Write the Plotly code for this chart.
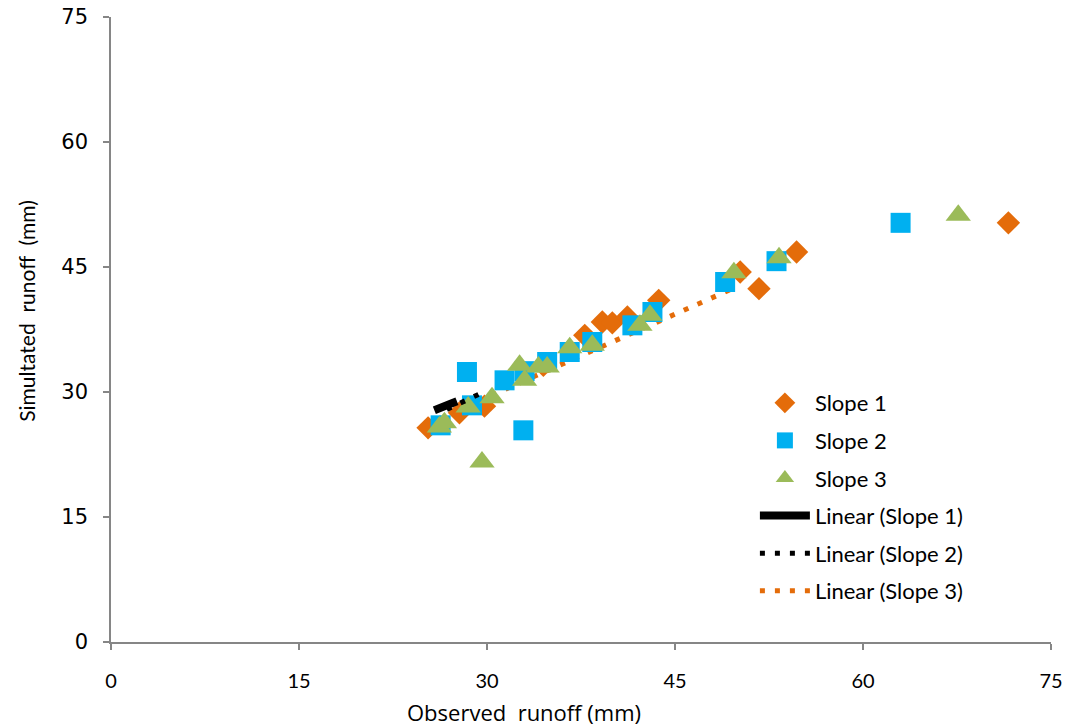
import plotly.graph_objects as go

# Slope 1 (diamonds)
s1_x = [25.3, 27.8, 29.8, 34.5, 37.8, 39.2, 40.0, 41.2, 43.7, 50.2, 51.7, 54.7, 71.6]
s1_y = [25.7, 27.5, 28.3, 33.2, 36.8, 38.4, 38.3, 39.0, 41.0, 44.4, 42.4, 46.8, 50.3]
# Slope 2 (squares)
s2_x = [26.3, 28.4, 28.8, 31.4, 32.9, 33.0, 34.8, 36.6, 38.4, 41.6, 43.2, 49.0, 53.1, 63.0]
s2_y = [26.0, 32.4, 28.4, 31.4, 25.4, 32.5, 33.6, 34.8, 36.0, 38.0, 39.6, 43.2, 45.7, 50.3]
# Slope 3 (triangles)
s3_x = [26.2, 26.6, 28.5, 29.6, 30.4, 32.6, 33.0, 34.1, 34.8, 36.6, 38.4, 42.2, 43.0, 49.7, 53.3, 67.6]
s3_y = [25.8, 26.3, 28.2, 21.6, 29.3, 33.2, 31.4, 33.0, 33.0, 35.3, 35.6, 38.0, 39.2, 44.3, 46.1, 51.2]

# Linear trend lines (endpoints)
t1_x = [25.8, 27.6]
t1_y = [27.8, 28.9]
t2_x = [26.8, 30.0]
t2_y = [27.9, 30.2]
t3_x = [26.0, 49.6]
t3_y = [26.7, 42.4]

ticks = [0, 15, 30, 45, 60, 75]
x_title = "Observed  runoff (mm)"
y_title = "Simultated  runoff  (mm)"

ORANGE = "#E46C0A"
BLUE = "#00B0F0"
GREEN = "#9BBB59"
FONT = "Lato"

fig = go.Figure()

fig.add_trace(go.Scatter(x=t3_x, y=t3_y, mode="lines", name="Linear (Slope 3)",
                         line=dict(color=ORANGE, width=5, dash="5px,10px"),
                         legendgroup="g6", legendrank=6))
fig.add_trace(go.Scatter(x=s1_x, y=s1_y, mode="markers", name="Slope 1",
                         marker=dict(symbol="diamond", size=18, color=ORANGE),
                         legendgroup="g1", legendrank=1))
fig.add_trace(go.Scatter(x=s2_x, y=s2_y, mode="markers", name="Slope 2",
                         marker=dict(symbol="square", size=20, color=BLUE),
                         legendgroup="g2", legendrank=2))
fig.add_trace(go.Scatter(x=s3_x, y=s3_y, mode="markers", name="Slope 3",
                         marker=dict(symbol="triangle-up", size=22, color=GREEN),
                         legendgroup="g3", legendrank=3))
fig.add_trace(go.Scatter(x=t1_x, y=t1_y, mode="lines", name="Linear (Slope 1)",
                         line=dict(color="black", width=8),
                         legendgroup="g4", legendrank=4))
fig.add_trace(go.Scatter(x=t2_x, y=t2_y, mode="lines", name="Linear (Slope 2)",
                         line=dict(color="black", width=5, dash="5px,10px"),
                         legendgroup="g5", legendrank=5))

axis_common = dict(
    range=[0, 75], tickvals=ticks, ticktext=[str(t) for t in ticks],
    showgrid=False, zeroline=False, showline=True, linecolor="#868686", linewidth=1.5,
    ticks="outside", ticklen=6, tickcolor="#868686", tickwidth=1.5, automargin=False,
)

fig.update_layout(
    width=1070, height=727,
    margin=dict(l=111, r=19, t=17, b=85),
    paper_bgcolor="white", plot_bgcolor="white",
    font=dict(family=FONT, size=18, color="black"),
    xaxis=dict(**axis_common, tickfont=dict(family=FONT, size=20), ticklabelstandoff=14),
    yaxis=dict(**axis_common, tickfont=dict(family="DejaVu Sans", size=21), ticklabelstandoff=11),
    legend=dict(x=0.685, y=0.416, xanchor="left", yanchor="top", itemwidth=50,
                font=dict(family=FONT, size=22), traceorder="grouped", tracegroupgap=6,
                bgcolor="rgba(0,0,0,0)"),
    showlegend=True,
    annotations=[
        dict(text=x_title, xref="paper", yref="paper", x=0.439, y=0, yshift=-70,
             xanchor="center", yanchor="middle", showarrow=False,
             font=dict(family="Open Sans", size=22)),
        dict(text=y_title, xref="paper", yref="paper", x=0, y=0.53, xshift=-84,
             xanchor="center", yanchor="middle", showarrow=False, textangle=-90,
             font=dict(family=FONT, size=21)),
    ],
)

fig.write_html("out.html")
